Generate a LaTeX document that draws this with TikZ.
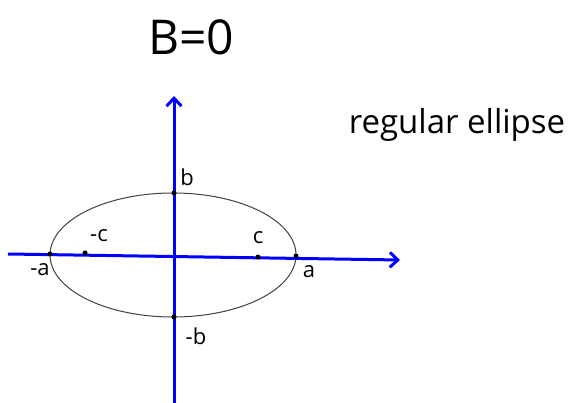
\documentclass[tikz,border=0pt]{standalone}
\usepackage{fontspec}
\setmainfont{Open Sans}
\usetikzlibrary{arrows.meta}
\begin{document}
\begin{tikzpicture}[x=1pt,y=-1pt,
  axis/.style={draw=blue,line width=3pt,-{Straight Barb[length=8pt,width=15pt,line width=3pt]}},
  curve/.style={draw=black!75,line width=1pt},
  pt/.style={circle,fill=black,inner sep=0pt,minimum size=5pt},
  lbl/.style={font=\fontsize{22}{24}\selectfont,inner sep=1pt}]
\useasboundingbox (0,0) rectangle (570,403);
\coordinate (xs) at (8,254);
\coordinate (xe) at (400,260);
\coordinate (ys) at (174,403);
\coordinate (ye) at (174,96);
\draw[curve] (173,255) ellipse [x radius=123, y radius=62];
\draw[axis] (xs) -- (xe);
\draw[axis] (ys) -- (ye);
\node[pt] (pa) at (296,256) {};
\node[pt] (pma) at (50,254) {};
\node[pt] (pb) at (174,193) {};
\node[pt] (pmb) at (174,317) {};
\node[pt] (pc) at (258,257) {};
\node[pt] (pmc) at (85,253) {};
\node[lbl] (la) at (309,272) {a};
\node[lbl] (lma) at (40,270) {-a};
\node[lbl] (lb) at (187,177) {b};
\node[lbl] (lmb) at (196,336) {-b};
\node[lbl] (lc) at (258,238) {c};
\node[lbl] (lmc) at (99,236) {-c};
\node[font=\fontsize{48}{50}\selectfont] (title) at (191,37) {B=0};
\node[font=\fontsize{33}{35}\selectfont] (re) at (457,125) {regular ellipse};
\end{tikzpicture}
\end{document}
